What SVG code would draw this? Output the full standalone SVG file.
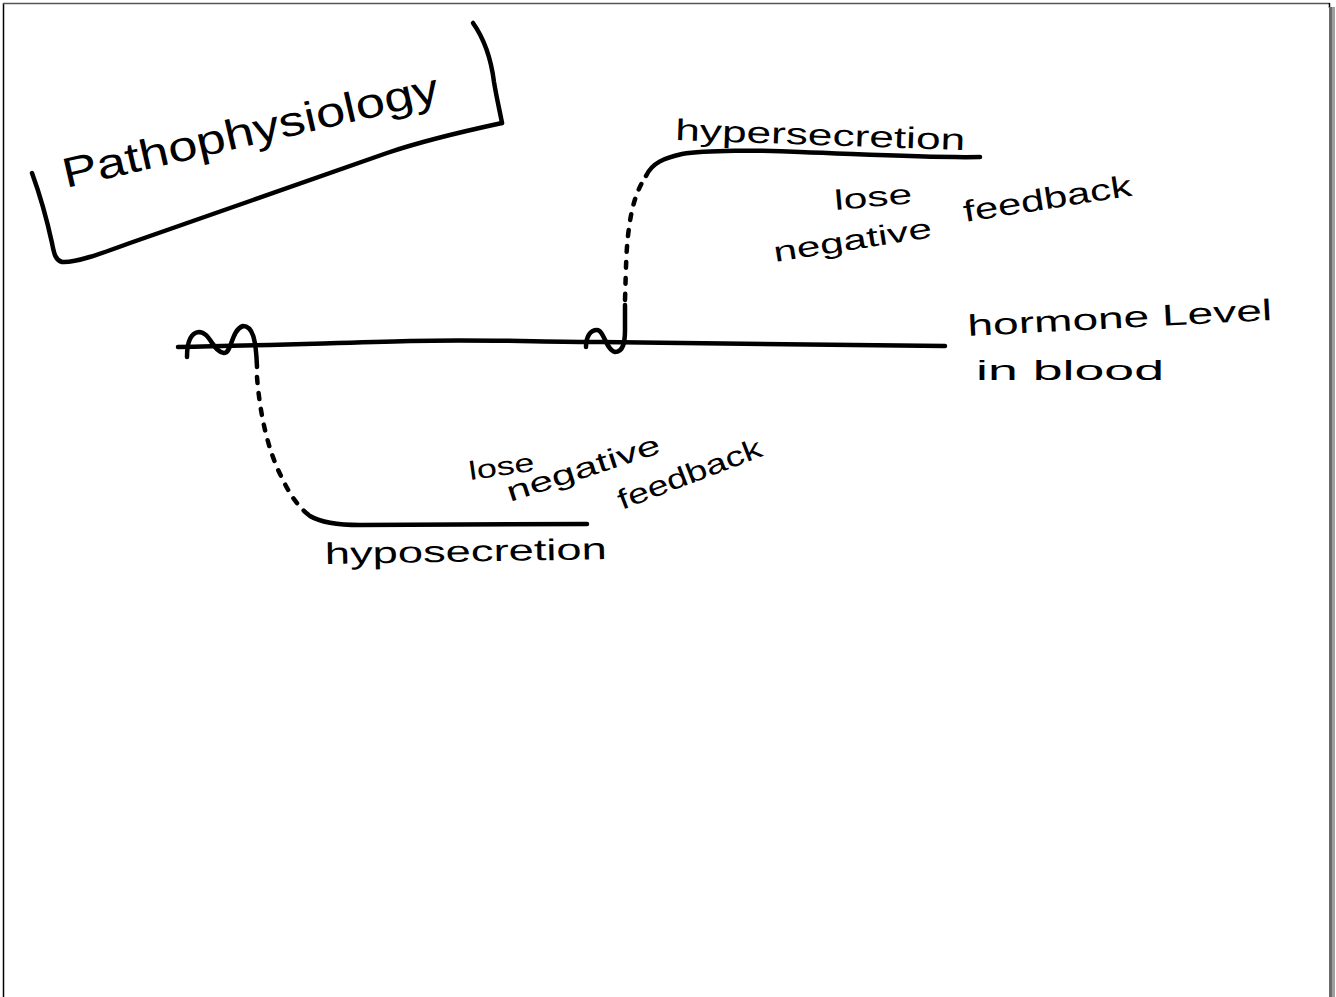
<svg xmlns="http://www.w3.org/2000/svg" width="1336" height="997" viewBox="0 0 1336 997">
<style>
.ink{fill:none;stroke:#000;stroke-width:4.5;stroke-linecap:round;stroke-linejoin:round}
.dot{fill:none;stroke:#000;stroke-width:4.5;stroke-linecap:round;stroke-dasharray:6 10}
.hw{font-family:"Liberation Sans","DejaVu Sans",sans-serif;fill:#000}
</style>
<rect x="0" y="0" width="1336" height="997" fill="#fff"/>
<g id="page-frame">
<line x1="3.5" y1="3" x2="3.5" y2="997" stroke="#000" stroke-width="1.5"/>
<line x1="3" y1="3.5" x2="1330" y2="3.5" stroke="#555" stroke-width="1.5"/>
<line x1="1329.5" y1="3" x2="1329.5" y2="8" stroke="#000" stroke-width="1.5"/>
<rect x="1329" y="7" width="3" height="990" fill="#6a6a6a"/>
<rect x="1332" y="7" width="3" height="990" fill="#a0a0a0"/>
</g>
<g id="title">
<path class="ink" d="M32,173 C40,195 47,220 52,243 C54,253 55,260 62,262 C75,263 100,254 130,243 L253,200 L387,153 C425,140 465,131 502,123"/>
<path class="ink" d="M473,23 C485,40 491,58 494,82 C497,100 500,112 502,123"/>
<text class="hw" x="66" y="188" font-size="42" textLength="385" lengthAdjust="spacingAndGlyphs" transform="rotate(-13 66 188)">Pathophysiology</text>
</g>
<g id="connectors">
<path id="blood-level-line" class="ink" d="M178,347 C250,346 330,343 410,341 C480,339 540,342 600,342 C700,343 800,345 945,346"/>
<path class="ink" d="M187,357 C187,345 189,333 199,332 C210,332 213,352 224,353 C232,353 231,330 243,326 C253,326 256,340 257,367"/>
<path class="ink" d="M586,347 C586,337 590,330 597,330 C604,330 606,350 615,352 C623,352 625,343 625,330 L625,305"/>
<path class="dot" d="M625,300 C626,270 626,248 629,228 C632,205 637,190 646,176"/>
<path class="ink" d="M646,176 C652,163 664,158 682,154 C705,150 760,150 800,152 C880,155 930,158 980,157"/>
<path class="dot" d="M257,377 C260,415 268,450 281,476 C289,493 297,506 310,516"/>
<path class="ink" d="M310,516 C320,522 335,525 360,525 L587,524"/>
</g>
<g id="hypersecretion">
<text class="hw" x="675" y="140" font-size="30" textLength="290" lengthAdjust="spacingAndGlyphs" transform="rotate(2 675 140)">hypersecretion</text>
</g>
<g id="upper-feedback">
<text class="hw" x="835" y="210" font-size="28" textLength="78" lengthAdjust="spacingAndGlyphs" transform="rotate(-5 835 210)">lose</text>
<text class="hw" x="775" y="262" font-size="28" textLength="160" lengthAdjust="spacingAndGlyphs" transform="rotate(-9 775 262)">negative</text>
<text class="hw" x="965" y="222" font-size="30" textLength="170" lengthAdjust="spacingAndGlyphs" transform="rotate(-9 965 222)">feedback</text>
</g>
<g id="axis-label">
<text class="hw" x="968" y="336" font-size="30" textLength="305" lengthAdjust="spacingAndGlyphs" transform="rotate(-3 968 336)">hormone Level</text>
<text class="hw" x="976" y="380" font-size="28" textLength="188" lengthAdjust="spacingAndGlyphs">in blood</text>
</g>
<g id="lower-feedback">
<text class="hw" x="470" y="480" font-size="26" textLength="66" lengthAdjust="spacingAndGlyphs" transform="rotate(-8 470 480)">lose</text>
<text class="hw" x="510" y="502" font-size="28" textLength="160" lengthAdjust="spacingAndGlyphs" transform="rotate(-18 510 502)">negative</text>
<text class="hw" x="622" y="510" font-size="28" textLength="152" lengthAdjust="spacingAndGlyphs" transform="rotate(-21 622 510)">feedback</text>
</g>
<g id="hyposecretion">
<text class="hw" x="325" y="564" font-size="30" textLength="282" lengthAdjust="spacingAndGlyphs" transform="rotate(-1 325 564)">hyposecretion</text>
</g>
</svg>
